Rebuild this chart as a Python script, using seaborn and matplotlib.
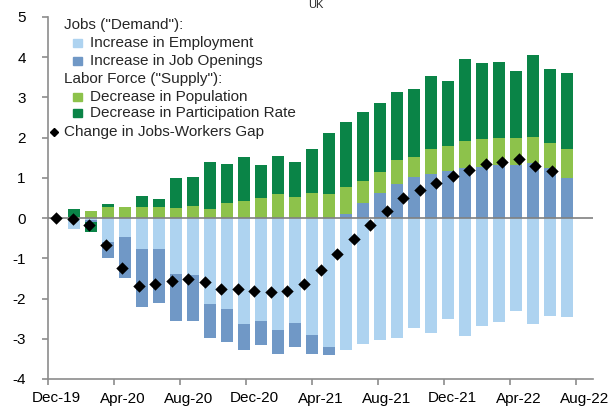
import numpy as np
import pandas as pd
import matplotlib
matplotlib.use("Agg")
import matplotlib.pyplot as plt
import seaborn as sns
from matplotlib.patches import Rectangle
from matplotlib.lines import Line2D

sns.set_style("white")
plt.rcParams["font.family"] = ["Liberation Sans", "DejaVu Sans"]

# monthly, Dec-19 .. Jun-22 (percentage points)
months = list(pd.date_range("2019-12-01", periods=31, freq="MS").strftime("%b-%y"))

employment = [0.00, -0.28, -0.05, -0.59, -0.48, -0.78, -0.78, -1.39, -1.42, -2.14,
              -2.27, -2.64, -2.55, -2.79, -2.60, -2.91, -3.20, -3.28, -3.14, -3.02,
              -2.97, -2.72, -2.85, -2.52, -2.93, -2.69, -2.59, -2.30, -2.63, -2.44, -2.45]
openings = [0.00, 0.00, -0.05, -0.40, -1.00, -1.44, -1.32, -1.16, -1.14, -0.85,
            -0.81, -0.64, -0.60, -0.59, -0.60, -0.47, -0.21, 0.10, 0.38, 0.63,
            0.85, 1.03, 1.09, 1.16, 1.24, 1.28, 1.32, 1.32, 1.36, 1.24, 1.00]
population = [0.00, 0.04, 0.17, 0.28, 0.27, 0.27, 0.27, 0.24, 0.31, 0.22,
              0.37, 0.43, 0.51, 0.60, 0.53, 0.63, 0.59, 0.68, 0.54, 0.51,
              0.59, 0.48, 0.63, 0.64, 0.68, 0.68, 0.66, 0.66, 0.65, 0.62, 0.72]
participation = [0.00, 0.18, -0.25, 0.07, 0.00, 0.28, 0.21, 0.75, 0.72, 1.17,
                 0.97, 1.08, 0.81, 0.94, 0.86, 1.10, 1.53, 1.62, 1.71, 1.73,
                 1.70, 1.70, 1.82, 1.60, 2.04, 1.90, 1.90, 1.68, 2.04, 1.84, 1.89]
gap = [0.00, -0.02, -0.17, -0.67, -1.23, -1.68, -1.63, -1.57, -1.52, -1.58,
       -1.75, -1.77, -1.82, -1.84, -1.81, -1.63, -1.28, -0.88, -0.51, -0.16,
       0.18, 0.50, 0.70, 0.87, 1.04, 1.19, 1.34, 1.39, 1.46, 1.30, 1.18]

tick_labels = ["Dec-19", "Apr-20", "Aug-20", "Dec-20", "Apr-21",
               "Aug-21", "Dec-21", "Apr-22", "Aug-22"]

series = [
    ("Increase in Employment", employment, "#aed3f0"),
    ("Increase in Job Openings", openings, "#7098c6"),
    ("Decrease in Population", population, "#8dc24b"),
    ("Decrease in Participation Rate", participation, "#0a8447"),
]

W, H = 614, 407
fig = plt.figure(figsize=(W / 100, H / 100), dpi=100)
ax = fig.add_axes([48 / W, 1 - 379 / H, 545 / W, 362 / H])

slots = np.arange(len(months))
pos_base = np.zeros(len(months))
neg_base = np.zeros(len(months))
for name, vals, color in series:
    v = np.array(vals)
    pos = np.where(v > 0, v, 0.0)
    neg = np.where(v < 0, v, 0.0)
    for part, base in ((pos, pos_base), (neg, neg_base)):
        sns.barplot(x=slots, y=part, bottom=base.copy(), native_scale=True,
                    width=0.7, color=color, saturation=1, errorbar=None,
                    linewidth=0, ax=ax)
    pos_base += pos
    neg_base += neg

# bars sit on a 32-slot category axis
ax.set_xlim(-0.5, 31.5)
ax.set_ylim(-4, 5)
ax.set_xticks([])
ax.set_xlabel("")
ax.set_ylabel("")
ax.axhline(0, color="#808080", lw=1.2, zorder=5)

grey = "#8c8c8c"
for s in ["top", "right"]:
    ax.spines[s].set_visible(False)
for s in ["left", "bottom"]:
    ax.spines[s].set_color(grey)
    ax.spines[s].set_linewidth(1.2)
ax.set_yticks(range(-4, 6))
ax.set_yticklabels([str(t) for t in range(-4, 6)], fontsize=11, color="black")
ax.tick_params(axis="y", direction="out", length=4, color=grey, width=1.2, pad=12,
               left=True)

# gap markers on their own (33-slot) date axis
ax2 = ax.twiny()
sns.scatterplot(x=slots, y=gap, marker="D", s=40, color="black", linewidth=0,
                ax=ax2, zorder=6, legend=False)
ax2.set_xlim(-0.5, 32.5)
ax2.set_ylim(-4, 5)
ax2.xaxis.set_ticks_position("bottom")
ax2.xaxis.set_label_position("bottom")
ax2.set_xticks(np.arange(0, 33, 4))
ax2.set_xticklabels(tick_labels, fontsize=11, color="black")
ax2.set_xticks(np.arange(-0.5, 32, 4), minor=True)
ax2.tick_params(axis="x", which="major", length=0, pad=9)
ax2.tick_params(axis="x", which="minor", length=4, direction="out", color=grey,
                width=1.2, bottom=True)
ax2.set_xlabel("")
ax2.set_ylabel("")
for s in ["top", "right", "left", "bottom"]:
    ax2.spines[s].set_visible(False)

# legend, drawn by hand to get the grouped layout
def fx(px):
    return px / W


def fy(py):
    return 1 - py / H


fs = 11
fig.text(fx(64), fy(25), 'Jobs ("Demand"):', fontsize=fs, va="center")
fig.text(fx(64), fy(79), 'Labor Force ("Supply"):', fontsize=fs, va="center")
rows = [43, 61, 97, 113]
for (name, vals, color), ry in zip(series, rows):
    fig.patches.append(Rectangle((fx(73), fy(ry + 4)), 9 / W, 8 / H, color=color,
                                 transform=fig.transFigure, figure=fig))
    fig.text(fx(90), fy(ry), name, fontsize=fs, va="center")
fig.add_artist(Line2D([fx(54)], [fy(132)], marker="D", markersize=4.5,
                      color="black", lw=0, transform=fig.transFigure))
fig.text(fx(64), fy(132), "Change in Jobs-Workers Gap", fontsize=fs, va="center")

# panel title at the top edge
fig.text(fx(316), fy(0.5), "UK", fontsize=8, ha="center", va="top")

fig.savefig("out.png", dpi=100)
